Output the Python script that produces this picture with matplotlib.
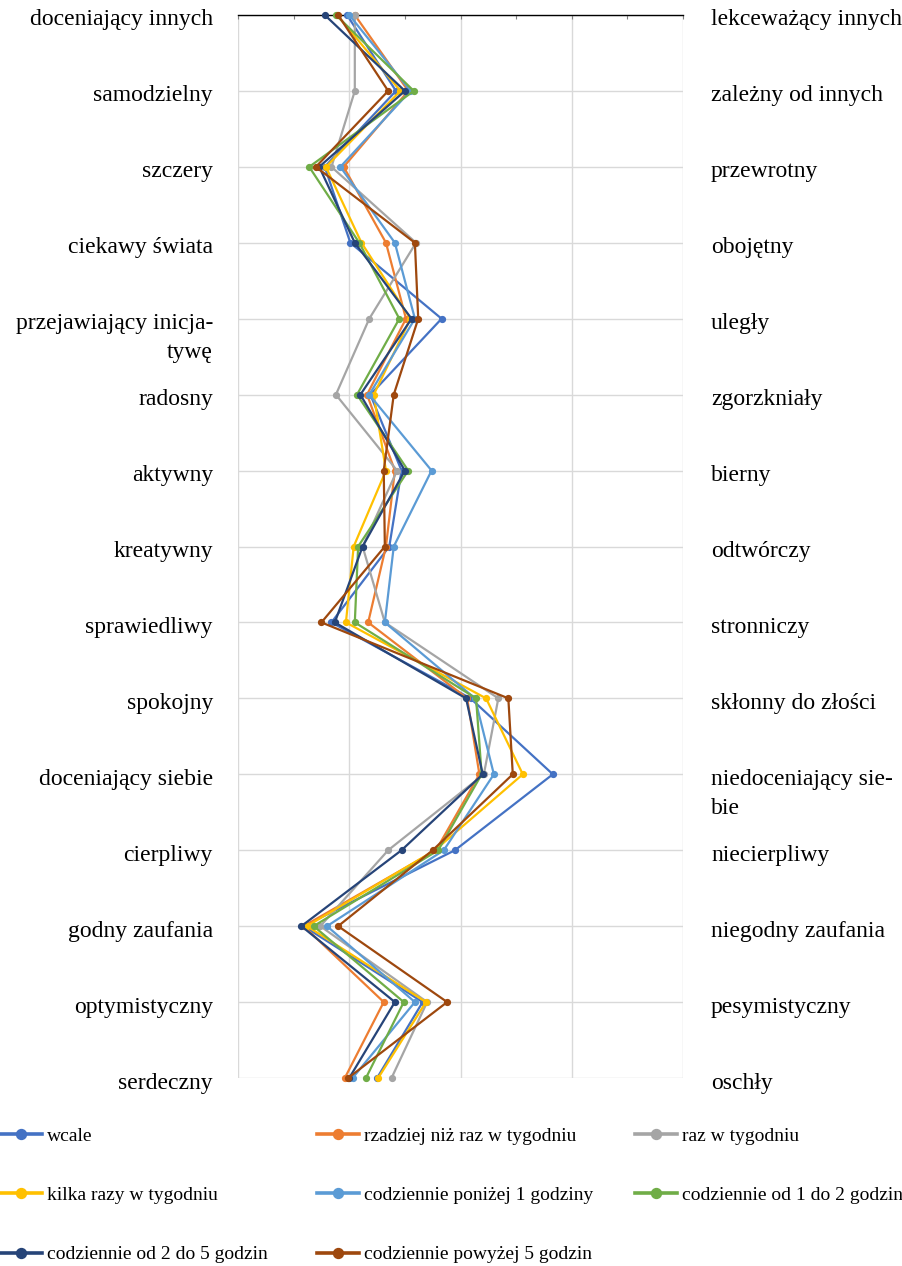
import matplotlib
matplotlib.use("Agg")
import matplotlib.pyplot as plt
import numpy as np

plt.rcParams['font.family'] = ['Liberation Serif', 'DejaVu Serif']

left_labels = [
    "doceniający innych", "samodzielny", "szczery", "ciekawy świata",
    "przejawiający inicja-\ntywę", "radosny", "aktywny", "kreatywny",
    "sprawiedliwy", "spokojny", "doceniający siebie", "cierpliwy",
    "godny zaufania", "optymistyczny", "serdeczny",
]
right_labels = [
    "lekceważący innych", "zależny od innych", "przewrotny", "obojętny",
    "uległy", "zgorzkniały", "bierny", "odtwórczy", "stronniczy",
    "skłonny do złości", "niedoceniający sie-\nbie", "niecierpliwy",
    "niegodny zaufania", "pesymistyczny", "oschły",
]

series_names = [
    "wcale", "rzadziej niż raz w tygodniu", "raz w tygodniu",
    "kilka razy w tygodniu", "codziennie poniżej 1 godziny",
    "codziennie od 1 do 2 godzin", "codziennie od 2 do 5 godzin",
    "codziennie powyżej 5 godzin",
]

wcale = [1.98, 2.42, 1.78, 2.01, 2.83, 2.19, 2.47, 2.36, 1.84, 3.09, 3.83, 2.95, 1.59, 2.66, 2.25]
rzadziej = [2.05, 2.53, 1.95, 2.33, 2.51, 2.16, 2.41, 2.33, 2.17, 3.06, 3.17, 2.78, 1.59, 2.31, 1.96]
raz = [2.05, 2.05, 1.84, 2.60, 2.18, 1.88, 2.43, 2.12, 2.32, 3.34, 3.21, 2.35, 1.74, 2.70, 2.38]
kilka = [1.89, 2.46, 1.79, 2.11, 2.55, 2.22, 2.33, 2.04, 1.97, 3.23, 3.56, 2.77, 1.62, 2.69, 2.26]
ponizej_1h = [2.00, 2.55, 1.92, 2.41, 2.59, 2.18, 2.74, 2.40, 2.32, 3.13, 3.30, 2.85, 1.80, 2.59, 2.03]
od_1_do_2h = [1.88, 2.58, 1.64, 2.09, 2.45, 2.07, 2.53, 2.08, 2.05, 3.14, 3.19, 2.80, 1.68, 2.49, 2.15]
od_2_do_5h = [1.78, 2.50, 1.73, 2.05, 2.56, 2.10, 2.50, 2.12, 1.87, 3.05, 3.20, 2.47, 1.57, 2.41, 2.00]
powyzej_5h = [1.90, 2.35, 1.70, 2.59, 2.62, 2.40, 2.31, 2.32, 1.75, 3.43, 3.47, 2.75, 1.90, 2.88, 1.99]

series_values = [wcale, rzadziej, raz, kilka, ponizej_1h, od_1_do_2h, od_2_do_5h, powyzej_5h]
colors = ["#4472C4", "#ED7D31", "#A5A5A5", "#FFC000", "#5B9BD5", "#70AD47", "#264478", "#9E480E"]

W, H = 903, 1266
fig = plt.figure(figsize=(W / 100, H / 100), dpi=100)
ax_l, ax_r, ax_t, ax_b = 238, 683, 15, 1078
ax = fig.add_axes([ax_l / W, 1 - ax_b / H, (ax_r - ax_l) / W, (ax_b - ax_t) / H])

n = len(left_labels)
ypos = np.arange(n)

lines = []
for name, vals, c in zip(series_names, series_values, colors):
    ln, = ax.plot(vals, ypos, color=c, lw=1.6, marker='o', ms=4.2,
                  label=name, zorder=3, clip_on=False)
    lines.append(ln)

ax.set_xlim(1, 5)
ax.set_ylim(n - 1, 0)
ax.set_xticks([1, 2, 3, 4, 5])
ax.set_yticks(ypos)
ax.grid(True, color="#D9D9D9", lw=1.0, zorder=0)
ax.set_axisbelow(True)
for s in ("left", "right", "bottom"):
    ax.spines[s].set_visible(False)
ax.spines["top"].set_color("black")
ax.spines["top"].set_linewidth(1.0)
ax.spines["top"].set_zorder(2)
ax.xaxis.tick_top()
ax.set_xticks(np.arange(1, 5.01, 0.5), minor=True)
ax.tick_params(axis='x', which='both', direction='in', length=3, width=0.8,
               color='#808080', labeltop=False, labelbottom=False, top=True, bottom=False)
ax.tick_params(axis='y', left=False, right=False, labelleft=False)

label_fs = 17
line_gap = 29  # px between wrapped label lines
fig.canvas.draw()
for i, (lt, rt) in enumerate(zip(left_labels, right_labels)):
    for txt, xfig, ha in ((lt, 213, 'right'), (rt, 711, 'left')):
        parts = txt.split("\n")
        for k, p in enumerate(parts):
            y_px = ax.transData.transform((1, i))[1] - k * line_gap - 5
            fig.text(xfig / W, y_px / H, p, ha=ha, va='center',
                     fontsize=label_fs, color='black')

# legend laid out in three columns, filled row by row
col_x = [0, 317, 635]
row_top = 1127
order_cols = [[0, 3, 6], [1, 4, 7], [2, 5]]
for cx, idxs in zip(col_x, order_cols):
    leg = fig.legend([lines[j] for j in idxs], [series_names[j] for j in idxs],
                     loc='upper left', bbox_to_anchor=(cx / W, 1 - row_top / H),
                     frameon=False, fontsize=14, handlelength=2.15, handletextpad=0.25,
                     labelspacing=2.15, borderaxespad=0, borderpad=0, markerscale=1.7)
    for h in leg.legend_handles:
        h.set_linewidth(2.6)

fig.savefig("out.png", dpi=100)
